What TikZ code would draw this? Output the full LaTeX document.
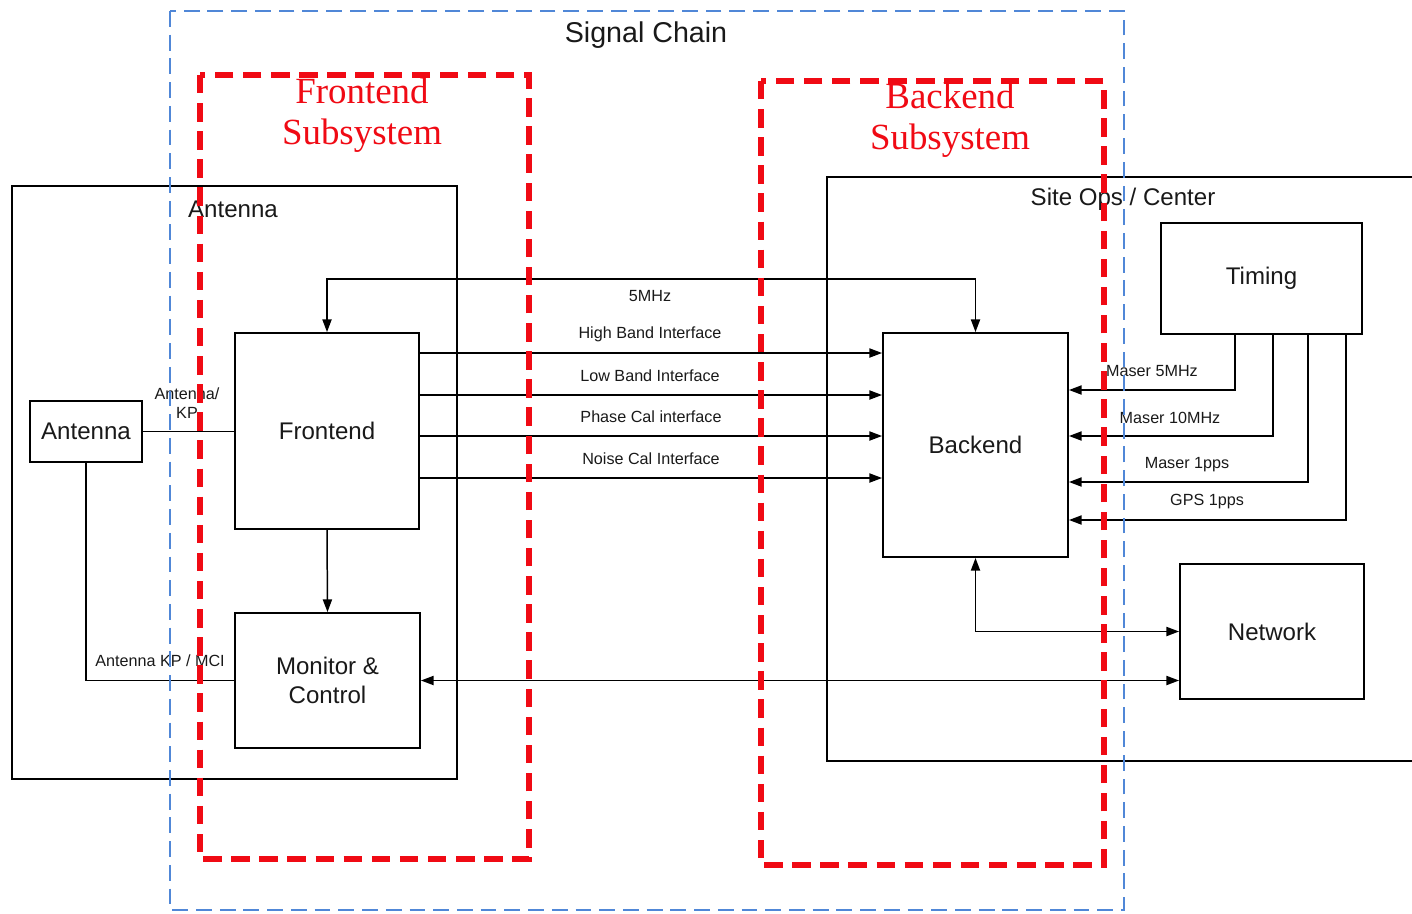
\documentclass[tikz,border=0pt]{standalone}
\usepackage{fontspec}
\setmainfont{Liberation Sans}
\newfontfamily\subsysfont{Liberation Serif}
\usetikzlibrary{arrows.meta}
\definecolor{txt}{RGB}{25,25,25}
\definecolor{chainblue}{RGB}{80,135,215}
\definecolor{subsysred}{RGB}{240,10,20}
\begin{document}
\begin{tikzpicture}[x=0.02cm,y=-0.02cm,
  box/.style={draw=black, line width=1.1pt, align=center, inner sep=0pt, text=txt,
              font=\fontsize{13.7}{16.5}\selectfont},
  frame/.style={draw=black, line width=1.1pt},
  title/.style={text=txt, inner sep=0pt, font=\fontsize{13.7}{16.5}\selectfont},
  lbl/.style={text=txt, inner sep=0pt, align=center, font=\fontsize{9.2}{10.8}\selectfont},
  wire/.style={draw=black, line width=0.85pt},
  tip/.style={-{Triangle[length=7.2pt,width=5.2pt]}},
  bothtips/.style={{Triangle[length=7.2pt,width=5.2pt]}-{Triangle[length=7.2pt,width=5.2pt]}},
  chain/.style={draw=chainblue, line width=1.1pt, dash pattern=on 9pt off 4.5pt},
  subsys/.style={draw=subsysred, line width=3.2pt, dash pattern=on 10.5pt off 5.5pt},
  subsyslbl/.style={text=subsysred, align=center, inner sep=0pt,
              font=\subsysfont\fontsize{21}{23.5}\selectfont}]
\useasboundingbox (0,0) rectangle (1412,913);

% outer enclosures
\node[frame, minimum width=8.9cm, minimum height=11.86cm, inner sep=0pt] (antsys) at (234.5,482.5) {};
\node[title] (antsyslbl) at (233,209) {Antenna};
\draw[frame] (1430,177) -| (827,761) -- (1430,761);
\node[title] (sitelbl) at (1123,199) {Site Ops / Center};

% functional blocks
\node[box, minimum width=2.24cm, minimum height=1.22cm] (ant) at (86,431.5) {Antenna};
\node[box, minimum width=3.68cm, minimum height=3.92cm] (fe) at (327,431) {Frontend};
\node[box, minimum width=3.7cm, minimum height=2.7cm] (mc) at (327.5,680.5) {Monitor \&\\Control};
\node[box, minimum width=3.7cm, minimum height=4.48cm] (be) at (975.5,445) {Backend};
\node[box, minimum width=4.02cm, minimum height=2.22cm] (tm) at (1261.5,278.5) {Timing};
\node[box, minimum width=3.68cm, minimum height=2.7cm] (nw) at (1272,631.5) {Network};

% routing points
\coordinate (r5) at (650,279);
\coordinate (rhb) at (650,353);
\coordinate (rlb) at (650,395);
\coordinate (rpc) at (650,436);
\coordinate (rnc) at (650,478);
\coordinate (m5) at (1235,390);
\coordinate (m10) at (1273,436);
\coordinate (m1) at (1308,482);
\coordinate (g1) at (1346,520);

% frontend <-> backend
\draw[wire,bothtips] (fe.north) |- (r5) -| (be.north);
\draw[wire,tip] (fe.east |- rhb) -- (be.west |- rhb);
\draw[wire,tip] (fe.east |- rlb) -- (be.west |- rlb);
\draw[wire,tip] (fe.east |- rpc) -- (be.west |- rpc);
\draw[wire,tip] (fe.east |- rnc) -- (be.west |- rnc);
\node[lbl] at (650,296) {5MHz};
\node[lbl] at (650,334) {High Band Interface};
\node[lbl] at (650,376) {Low Band Interface};
\node[lbl] at (651,417) {Phase Cal interface};
\node[lbl] at (651,459) {Noise Cal Interface};

% antenna side
\draw[wire] (ant.east) -- (fe.west |- ant.east);
\node[lbl] at (187,403) {Antenna/\\KP};
\draw[wire] (ant.south) |- (mc.west);
\node[lbl] at (160,661) {Antenna KP / MCI};
\draw[wire,tip] (fe.south) -- (mc.north);

% site side
\draw[wire,bothtips] (mc.east) -- (nw.west |- mc.east);
\draw[wire,bothtips] (be.south) |- (nw.west);
\draw[wire,tip] (tm.south -| m5) |- (be.east |- m5);
\draw[wire,tip] (tm.south -| m10) |- (be.east |- m10);
\draw[wire,tip] (tm.south -| m1) |- (be.east |- m1);
\draw[wire,tip] (tm.south -| g1) |- (be.east |- g1);
\node[lbl] at (1152,371) {Maser 5MHz};
\node[lbl] at (1170,418) {Maser 10MHz};
\node[lbl] at (1187,465) {Maser 1pps};
\node[lbl] at (1207,502) {GPS 1pps};

% subsystem boundaries
\draw[chain] (170,11) rectangle (1124,910);
\node[text=txt, inner sep=0pt, font=\fontsize{16.3}{19}\selectfont] (chainlbl) at (646,35) {Signal Chain};
\draw[subsys] (200,75) rectangle (529,859);
\draw[subsys] (761,81) rectangle (1104,865);
\node[subsyslbl] (felbl) at (362,115) {Frontend\\Subsystem};
\node[subsyslbl] (belbl) at (950,120) {Backend\\Subsystem};
\end{tikzpicture}
\end{document}
